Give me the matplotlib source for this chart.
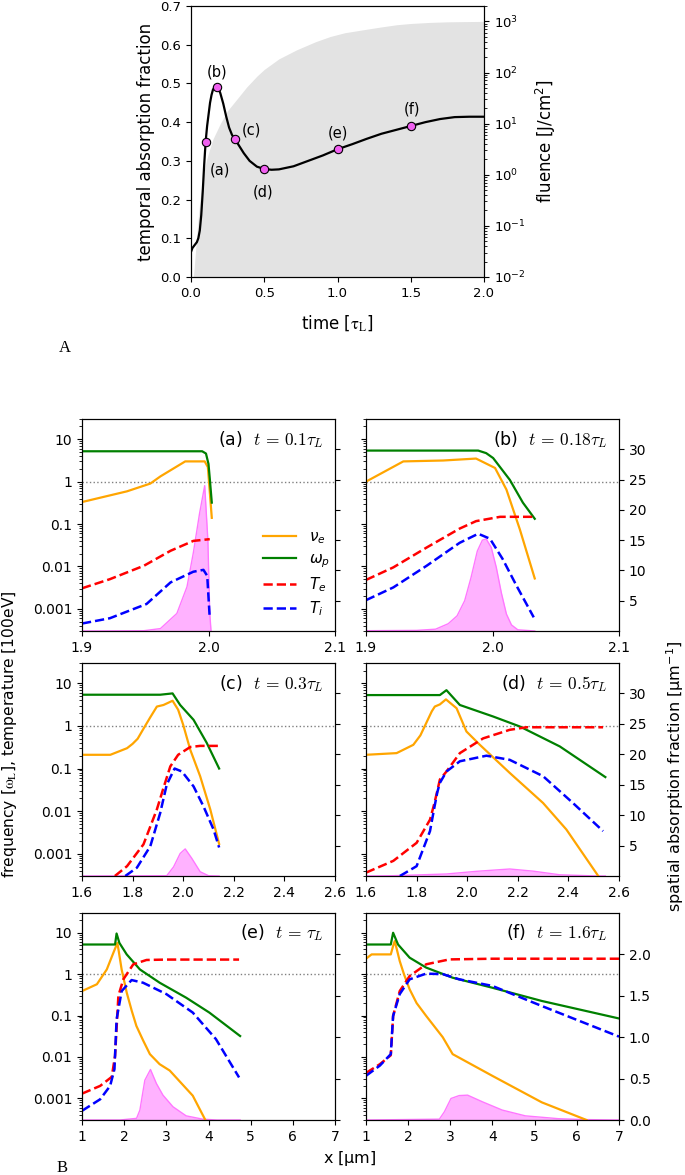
import matplotlib.pyplot as plt
import numpy as np

# ---------------- A: temporal absorption fraction and fluence ----------------
t_abs = [0.0, 0.01, 0.02, 0.03, 0.04, 0.05, 0.06, 0.07, 0.08, 0.09, 0.1, 0.11, 0.12,
         0.13, 0.14, 0.15, 0.16, 0.175, 0.19, 0.2, 0.22, 0.24, 0.26, 0.28, 0.3, 0.33,
         0.36, 0.4, 0.45, 0.5, 0.55, 0.6, 0.7, 0.8, 0.9, 1.0, 1.1, 1.2, 1.3, 1.4, 1.5,
         1.6, 1.7, 1.8, 1.9, 2.0]
absorption = [0.065, 0.075, 0.08, 0.085, 0.09, 0.1, 0.12, 0.16, 0.22, 0.29, 0.35, 0.39,
              0.42, 0.45, 0.47, 0.484, 0.49, 0.492, 0.485, 0.475, 0.448, 0.415, 0.386,
              0.367, 0.356, 0.338, 0.32, 0.3, 0.285, 0.279, 0.277, 0.278, 0.286, 0.3,
              0.314, 0.33, 0.343, 0.357, 0.37, 0.38, 0.39, 0.4, 0.408, 0.413, 0.414, 0.414]
snap_t = [0.1, 0.18, 0.3, 0.5, 1.0, 1.5]
snap_abs = [0.35, 0.49, 0.356, 0.279, 0.33, 0.39]
snap_names = ['(a)', '(b)', '(c)', '(d)', '(e)', '(f)']
snap_label_t = [0.198, 0.175, 0.414, 0.494, 1.0, 1.506]
snap_label_y = [0.276, 0.53, 0.379, 0.22, 0.372, 0.434]

t_flu = [0.016, 0.02, 0.03, 0.04, 0.05, 0.06, 0.07, 0.08, 0.09, 0.107, 0.125, 0.15, 0.2,
         0.25, 0.3, 0.38, 0.45, 0.5, 0.6, 0.72, 0.85, 0.95, 1.05, 1.176, 1.3, 1.404, 1.5,
         1.63, 1.75, 1.86, 2.0]
fluence = [0.01, 0.013, 0.03, 0.07, 0.15, 0.3, 0.5, 0.8, 1.2, 2.0, 3.0, 5.0, 10, 18, 27,
           52, 85, 115, 185, 277, 400, 506, 600, 686, 780, 860, 910, 955, 980, 990, 1000]

# ---------------- B: profiles at the six instants ----------------
# (a) t = 0.1 tau_L
a_nu_x = [1.9, 1.9355, 1.954, 1.962, 1.9816, 1.997, 1.9995, 2.0026]
a_nu = [0.33, 0.59, 0.9, 1.33, 3.0, 3.0, 2.2, 0.14]
a_wp_x = [1.9, 1.995, 1.998, 2.0, 2.001, 2.0026]
a_wp = [5.2, 5.2, 4.6, 2.6, 1.2, 0.32]
a_te_x = [1.9, 1.922, 1.949, 1.97, 1.988, 2.001]
a_te = [0.00305, 0.005, 0.0104, 0.0234, 0.04, 0.044]
a_ti_x = [1.9, 1.922, 1.951, 1.97, 1.988, 1.996, 1.999, 2.001]
a_ti = [0.00045, 0.0006, 0.0013, 0.0042, 0.0075, 0.0083, 0.006, 0.00059]
a_sp_x = [1.9, 1.949, 1.962, 1.975, 1.983, 1.988, 1.993, 1.997, 1.9995, 2.001, 2.002]
a_sp = [0.0, 0.05, 0.4, 2.9, 7.3, 12.9, 19.5, 24.0, 15.0, 2.9, 0.0]

# (b) t = 0.18 tau_L
b_nu_x = [1.9, 1.9295, 1.961, 1.987, 2.002, 2.011, 2.0216, 2.0334]
b_nu = [1.0, 3.0, 3.15, 3.5, 2.1, 0.65, 0.075, 0.0052]
b_wp_x = [1.9, 1.9887, 1.995, 2.0005, 2.0137, 2.024, 2.0334]
b_wp = [5.4, 5.4, 4.7, 3.6, 1.1, 0.32, 0.133]
b_te_x = [1.9, 1.9216, 1.948, 1.974, 1.987, 2.006, 2.0334]
b_te = [0.0048, 0.0095, 0.028, 0.078, 0.117, 0.148, 0.148]
b_ti_x = [1.9, 1.9216, 1.948, 1.974, 1.9887, 1.998, 2.008, 2.019, 2.0326]
b_ti = [0.0016, 0.0032, 0.0104, 0.036, 0.059, 0.045, 0.015, 0.0035, 0.00063]
b_sp_x = [1.9, 1.94, 1.955, 1.965, 1.972, 1.978, 1.983, 1.988, 1.992, 1.995, 1.999,
          2.003, 2.007, 2.011, 2.015, 2.02, 2.0334]
b_sp = [0.05, 0.1, 0.3, 1.2, 2.5, 5.0, 8.8, 13.2, 15.0, 15.2, 13.8, 10.5, 6.3, 2.8,
        1.0, 0.2, 0.0]

# (c) t = 0.3 tau_L
c_nu_x = [1.6, 1.712, 1.778, 1.8, 1.82, 1.845, 1.87, 1.896, 1.922, 1.958, 1.98, 2.0,
          2.028, 2.067, 2.107, 2.142]
c_nu = [0.21, 0.21, 0.3, 0.38, 0.5, 0.9, 1.6, 2.85, 3.1, 3.9, 2.4, 1.06, 0.275, 0.066,
        0.011, 0.0017]
c_wp_x = [1.6, 1.909, 1.958, 1.988, 2.041, 2.093, 2.142]
c_wp = [5.4, 5.4, 5.8, 3.1, 1.39, 0.4, 0.1]
c_te_x = [1.73, 1.778, 1.843, 1.896, 1.922, 1.949, 1.98, 2.028, 2.067, 2.142]
c_te = [0.0003, 0.00051, 0.00166, 0.011, 0.035, 0.112, 0.21, 0.32, 0.34, 0.34]
c_ti_x = [1.771, 1.817, 1.87, 1.909, 1.935, 1.966, 1.995, 2.041, 2.08, 2.12, 2.142]
c_ti = [0.0003, 0.00047, 0.0015, 0.009, 0.042, 0.1, 0.085, 0.038, 0.013, 0.0037, 0.0014]
c_sp_x = [1.6, 1.935, 1.962, 1.988, 2.008, 2.034, 2.067, 2.1, 2.142]
c_sp = [0.0, 0.05, 1.5, 3.7, 4.45, 2.9, 0.7, 0.05, 0.0]

# (d) t = 0.5 tau_L
d_nu_x = [1.6, 1.721, 1.787, 1.815, 1.839, 1.86, 1.872, 1.892, 1.916, 1.958, 1.997,
          2.05, 2.168, 2.3, 2.392, 2.518]
d_nu = [0.21, 0.23, 0.36, 0.6, 1.2, 2.2, 2.85, 3.2, 4.2, 2.6, 0.74, 0.36, 0.079,
        0.0155, 0.0037, 0.0003]
d_wp_x = [1.6, 1.892, 1.918, 1.971, 2.103, 2.208, 2.366, 2.546]
d_wp = [5.3, 5.3, 6.9, 3.1, 1.66, 0.97, 0.33, 0.063]
d_te_x = [1.6, 1.708, 1.8, 1.853, 1.87, 1.882, 1.892, 1.918, 1.971, 2.063, 2.168,
          2.234, 2.537]
d_te = [0.00036, 0.00068, 0.0018, 0.0063, 0.015, 0.03, 0.055, 0.085, 0.23, 0.51, 0.81,
        0.93, 0.93]
d_ti_x = [1.734, 1.8, 1.853, 1.87, 1.882, 1.892, 1.918, 1.971, 2.076, 2.168, 2.3,
          2.418, 2.537]
d_ti = [0.0003, 0.00051, 0.0034, 0.012, 0.028, 0.046, 0.085, 0.148, 0.2, 0.16, 0.066,
        0.0155, 0.0034]
d_sp_x = [1.6, 1.708, 1.918, 2.037, 2.168, 2.26, 2.366, 2.5, 2.546]
d_sp = [0.0, 0.05, 0.33, 0.77, 1.15, 0.8, 0.2, 0.02, 0.0]

# (e) t = tau_L
e_nu_x = [1.0, 1.353, 1.588, 1.745, 1.84, 1.94, 2.06, 2.18, 2.29, 2.45, 2.61, 2.84,
          3.08, 3.627, 3.925]
e_nu = [0.39, 0.57, 1.3, 3.3, 5.7, 1.3, 0.36, 0.13, 0.056, 0.025, 0.0117, 0.0067,
        0.0047, 0.00116, 0.0003]
e_wp_x = [1.0, 1.784, 1.82, 1.886, 2.06, 2.373, 2.843, 3.47, 4.02, 4.75]
e_wp = [5.2, 5.2, 9.6, 5.7, 3.0, 1.3, 0.62, 0.27, 0.118, 0.032]
e_te_x = [1.0, 1.431, 1.706, 1.784, 1.863, 1.98, 2.216, 2.53, 3.0, 4.725]
e_te = [0.0013, 0.002, 0.0033, 0.0107, 0.3, 0.75, 1.73, 2.2, 2.25, 2.25]
e_ti_x = [1.0, 1.431, 1.667, 1.77, 1.82, 1.941, 2.176, 2.45, 3.0, 3.627, 4.176, 4.725]
e_ti = [0.0005, 0.00095, 0.002, 0.0051, 0.081, 0.39, 0.72, 0.62, 0.33, 0.118, 0.027, 0.0032]
e_sp_x = [1.0, 1.9, 2.294, 2.373, 2.49, 2.624, 2.765, 2.92, 3.157, 3.47, 3.863, 4.2, 4.75]
e_sp = [0.0, 0.0, 0.02, 0.12, 0.48, 0.61, 0.44, 0.3, 0.16, 0.05, 0.01, 0.0, 0.0]

# (f) t = 1.6 tau_L
f_nu_x = [1.0, 1.133, 1.588, 1.643, 1.682, 1.8, 1.9, 2.035, 2.2, 2.427, 2.82, 3.055,
          3.996, 5.17, 6.23]
f_nu = [2.36, 3.0, 3.0, 4.8, 6.3, 2.07, 1.0, 0.43, 0.2, 0.098, 0.03, 0.0117, 0.0035,
        0.0008, 0.0003]
f_wp_x = [1.0, 1.588, 1.643, 1.76, 2.035, 2.427, 3.055, 3.996, 5.17, 7.0]
f_wp = [5.2, 5.2, 10.0, 5.2, 2.5, 1.44, 0.82, 0.47, 0.225, 0.085]
f_te_x = [1.0, 1.33, 1.588, 1.643, 1.8, 2.035, 2.427, 2.976, 3.996, 7.0]
f_te = [0.0041, 0.0067, 0.011, 0.098, 0.39, 0.9, 1.73, 2.27, 2.36, 2.36]
f_ti_x = [1.0, 1.33, 1.588, 1.643, 1.8, 2.035, 2.427, 2.82, 3.212, 3.996, 5.17, 7.0]
f_ti = [0.0035, 0.0062, 0.0117, 0.098, 0.33, 0.75, 1.03, 1.0, 0.75, 0.52, 0.17, 0.031]
f_sp_x = [1.0, 2.74, 2.86, 3.016, 3.21, 3.41, 3.76, 4.23, 4.78, 5.56, 6.2, 7.0]
f_sp = [0.0, 0.01, 0.1, 0.26, 0.295, 0.30, 0.22, 0.12, 0.05, 0.016, 0.005, 0.0]

panel_titles = [r'(a)  $t\,=\,0.1\tau_L$', r'(b)  $t\,=\,0.18\tau_L$', r'(c)  $t\,=\,0.3\tau_L$',
                r'(d)  $t\,=\,0.5\tau_L$', r'(e)  $t\,=\,\tau_L$', r'(f)  $t\,=\,1.6\tau_L$']

W, H = 685, 1175
fig = plt.figure(figsize=(W / 100, H / 100), dpi=100)


def box(l, t, r, b):
    return [l / W, 1 - b / H, (r - l) / W, (b - t) / H]


# ---------------- top panel ----------------
ax = fig.add_axes(box(191, 6, 484, 277))
axf = ax.twinx()
axf.fill_between(t_flu, 1e-2, fluence, color='0.89', lw=0)
axf.set_yscale('log')
axf.set_ylim(1e-2, 2e3)
axf.set_ylabel(r'fluence [J/cm$^2$]', fontsize=12, labelpad=6)
ax.set_zorder(axf.get_zorder() + 1)
ax.patch.set_visible(False)
ax.plot(t_abs, absorption, color='black', lw=1.6)
ax.plot(snap_t, snap_abs, 'o', color='#f060f0', mec='black', mew=0.8, ms=6)
for name, tx, ty in zip(snap_names, snap_label_t, snap_label_y):
    ax.text(tx, ty, name, ha='center', va='center', fontsize=10.5)
ax.set_xlim(0, 2)
ax.set_ylim(0, 0.7)
ax.set_xticks(np.arange(0, 2.01, 0.5))
ax.set_yticks(np.arange(0, 0.71, 0.1))
ax.set_xlabel(r'time [$\mathrm{\tau_L}$]', fontsize=12, labelpad=10, math_fontfamily='stix')
ax.set_ylabel('temporal absorption fraction', fontsize=12)
for a_ in (ax, axf):
    a_.tick_params(labelsize=9.5)

fig.text(65 / W, 1 - 348 / H, 'A', family='Liberation Serif', fontsize=12,
         ha='center', va='center')

# ---------------- six profile panels ----------------
boxes = [box(82, 419, 335, 631), box(366, 419, 619, 631),
         box(82, 663, 335, 876), box(366, 663, 619, 876),
         box(82, 913, 335, 1120), box(366, 913, 619, 1120)]
series = [
    (a_nu_x, a_nu, a_wp_x, a_wp, a_te_x, a_te, a_ti_x, a_ti, a_sp_x, a_sp),
    (b_nu_x, b_nu, b_wp_x, b_wp, b_te_x, b_te, b_ti_x, b_ti, b_sp_x, b_sp),
    (c_nu_x, c_nu, c_wp_x, c_wp, c_te_x, c_te, c_ti_x, c_ti, c_sp_x, c_sp),
    (d_nu_x, d_nu, d_wp_x, d_wp, d_te_x, d_te, d_ti_x, d_ti, d_sp_x, d_sp),
    (e_nu_x, e_nu, e_wp_x, e_wp, e_te_x, e_te, e_ti_x, e_ti, e_sp_x, e_sp),
    (f_nu_x, f_nu, f_wp_x, f_wp, f_te_x, f_te, f_ti_x, f_ti, f_sp_x, f_sp),
]
xlims = [(1.9, 2.1), (1.6, 2.6), (1, 7)]
xticks = [[1.9, 2.0, 2.1], np.arange(1.6, 2.61, 0.2), np.arange(1, 7.1, 1)]
xticklabels = [['1.9', '2.0', '2.1'], ['1.6', '1.8', '2.0', '2.2', '2.4', '2.6'],
               ['1', '2', '3', '4', '5', '6', '7']]
rlims = [(0, 35), (0, 35), (0, 2.5)]
rticks = [[5, 10, 15, 20, 25, 30], [5, 10, 15, 20, 25, 30], [0, 0.5, 1.0, 1.5, 2.0]]
rticklabels = [['5', '10', '15', '20', '25', '30'], ['5', '10', '15', '20', '25', '30'],
               ['0.0', '0.5', '1.0', '1.5', '2.0']]

for i, (bx, s) in enumerate(zip(boxes, series)):
    row, col = divmod(i, 2)
    nux, nu, wpx, wp, tex, te, tix, ti, spx, sp = s
    ax = fig.add_axes(bx)
    axr = ax.twinx()
    axr.fill_between(spx, 0, sp, color='#ff55ff', alpha=0.45, lw=0)
    axr.plot(spx, sp, color='#ff77ff', lw=1)
    axr.set_ylim(*rlims[row])
    axr.set_yticks(rticks[row])
    if col == 1:
        axr.set_yticklabels(rticklabels[row])
    else:
        axr.set_yticklabels([])
    axr.tick_params(labelsize=10)
    ax.set_zorder(axr.get_zorder() + 1)
    ax.patch.set_visible(False)

    ax.axhline(1, color='gray', ls=':', lw=1)
    ax.plot(nux, nu, color='orange', lw=1.6, label=r'$\nu_e$')
    ax.plot(wpx, wp, color='green', lw=1.6, label=r'$\omega_p$')
    ax.plot(tex, te, color='red', ls='--', lw=1.8, label=r'$T_e$')
    ax.plot(tix, ti, color='blue', ls='--', lw=1.8, label=r'$T_i$')
    ax.set_yscale('log')
    ax.set_ylim(3e-4, 30)
    ax.set_yticks([1e-3, 1e-2, 0.1, 1, 10])
    if col == 0:
        ax.set_yticklabels(['0.001', '0.01', '0.1', '1', '10'])
    else:
        ax.set_yticklabels([])
    ax.set_xlim(*xlims[row])
    ax.set_xticks(xticks[row])
    ax.set_xticklabels(xticklabels[row])
    ax.tick_params(labelsize=10)
    ax.text(0.955, 0.905, panel_titles[i], transform=ax.transAxes, ha='right',
            va='center', fontsize=12.5, math_fontfamily='cm')
    if i == 0:
        ax.legend(loc='center left', bbox_to_anchor=(0.66, 0.27), frameon=False,
                  fontsize=11, handlelength=2.2, labelspacing=0.35)

fig.text(10 / W, 1 - 734 / H, r'frequency [$\mathrm{\omega_L}$], temperature [100eV]',
         rotation=90, ha='center', va='center', fontsize=11.2, math_fontfamily='stix')
fig.text(675 / W, 1 - 776 / H, r'spatial absorption fraction [$\mathrm{\mu}$m$^{-1}$]',
         rotation=90, ha='center', va='center', fontsize=11.5)
fig.text(350 / W, 1 - 1158 / H, r'x [$\mathrm{\mu}$m]', ha='center', va='center',
         fontsize=11.5)
fig.text(62 / W, 1 - 1168 / H, 'B', family='Liberation Serif', fontsize=12,
         ha='center', va='center')

fig.savefig('out.png', dpi=100)
